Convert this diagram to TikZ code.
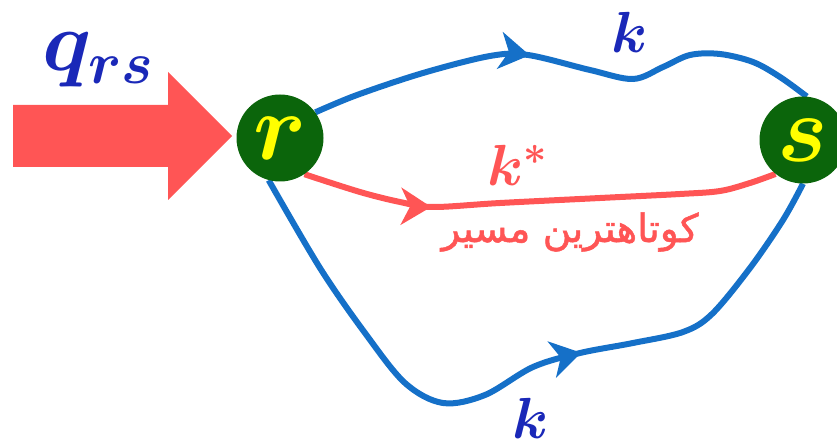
\RequirePackage{fix-cm}
\documentclass[tikz,border=0pt]{standalone}
\usepackage{fontspec}
\newfontfamily\arabicfont[Script=Arabic,FakeBold=1.3]{DejaVu Sans}
\TeXXeTstate=1
\usetikzlibrary{arrows.meta,decorations.markings,backgrounds}
\definecolor{linkblue}{HTML}{1570C8}
\definecolor{flowred}{HTML}{FF5555}
\definecolor{nodegreen}{HTML}{0B650B}
\definecolor{labelblue}{HTML}{1A28B8}
\definecolor{letteryellow}{HTML}{FFFF00}
\begin{document}
\begin{tikzpicture}[x=1pt,y=1pt,
  vertex/.style={circle,fill=nodegreen,minimum size=87pt,inner sep=0pt,text=letteryellow,font=\fontsize{95}{95}\selectfont\boldmath},
  route/.style={line width=6pt,smooth,tension=0.55},
  midarrow/.style={postaction={decorate,decoration={markings,mark=at position #1 with {\arrow{Stealth[length=30pt,width=37pt,inset=9pt]}}}}},
  lbl/.style={text=labelblue,font=\fontsize{58}{58}\selectfont\boldmath,inner sep=0pt,anchor=base}
]
\useasboundingbox (0,0) rectangle (837,-446);
\node[vertex] (r) at (280,-138) {$r$};
\node[vertex] (s) at (803,-140) {$s$};
\fill[flowred] (13,-105) -- (168,-105) -- (168,-72) -- (232,-136) -- (168,-200) -- (168,-167) -- (13,-167) -- cycle;
\begin{scope}[on background layer]
\draw[route,linkblue,midarrow=0.43] plot coordinates {(r.36) (357,-95) (423,-73) (490,-56) (528,-55) (590,-70) (633,-79) (663,-67) (690,-55) (720,-54) (753,-62) (780,-77) (s.85)};
\draw[route,flowred,midarrow=0.274] plot coordinates {(r.-56) (360,-192) (400,-202) (433,-207) (500,-203) (600,-198) (680,-194) (720,-191) (750,-183) (s.-129)};
\draw[route,linkblue,midarrow=0.595] plot coordinates {(r.-105) (320,-268) (365,-333) (405,-383) (443,-403) (485,-395) (533,-367) (580,-353) (633,-343) (683,-332) (712,-314) (750,-268) (783,-220) (s.-90)};
\end{scope}
\node[lbl,anchor=base west,font=\fontsize{85}{85}\selectfont\boldmath] (q) at (42,-71) {$q_{rs}$};
\node[lbl] (ktop) at (630,-53) {$k$};
\node[lbl] (kbot) at (531,-438) {$k$};
\node[lbl,text=flowred,anchor=base west] (kstar) at (487,-186) {$k^{*}$};
\node[text=flowred,font=\arabicfont\fontsize{39}{39}\selectfont,inner sep=0pt] (fa) at (570,-232) {\beginR کوتاهترین مسیر\endR};
\end{tikzpicture}
\end{document}
